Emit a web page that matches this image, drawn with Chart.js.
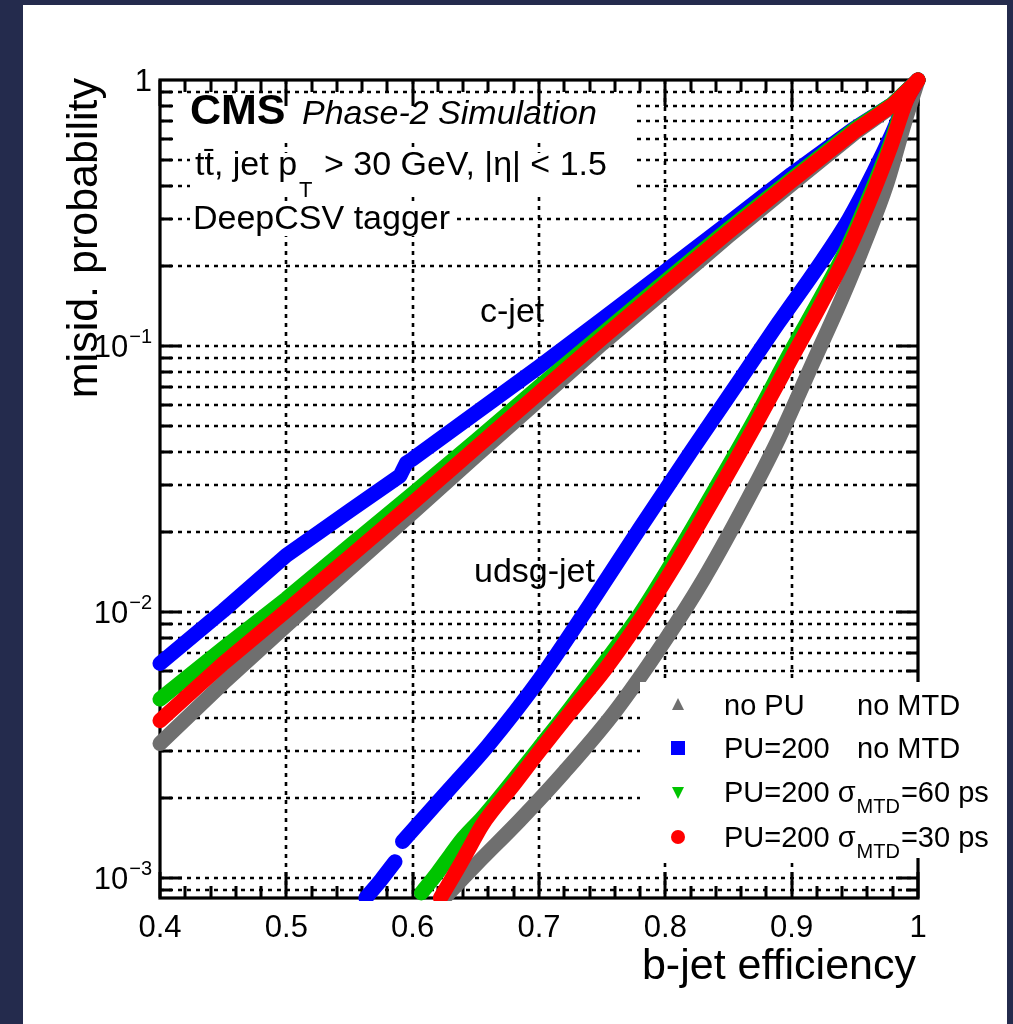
<!DOCTYPE html>
<html><head><meta charset="utf-8">
<script src="https://cdn.jsdelivr.net/npm/chart.js@4.4.1/dist/chart.umd.min.js"></script>
<style>html,body{margin:0;padding:0;background:#242b4d;overflow:hidden}canvas{display:block}</style>
</head><body>
<canvas id="c" width="1013" height="1024"></canvas>
<script>
// ---------------- data ----------------
const effC = [0.40,0.45,0.50,0.55,0.60,0.65,0.70,0.75,0.80,0.85,0.90,0.95,0.98,1.00];
const cjetNoPU   = [0.0032,0.0054,0.0089,0.0145,0.0236,0.0386,0.0627,0.102,0.162,0.259,0.406,0.632,0.799,1.0];
const cjetMTD60  = [0.0047,0.0073,0.0112,0.0177,0.0278,0.0440,0.0702,0.111,0.175,0.275,0.425,0.654,0.812,1.0];
const cjetMTD30  = [0.0039,0.0064,0.0101,0.0161,0.0257,0.0414,0.0666,0.107,0.170,0.268,0.417,0.643,0.805,1.0];
const effCBlue   = [0.40,0.45,0.50,0.55,0.59,0.595,0.60,0.65,0.70,0.75,0.80,0.85,0.90,0.95,0.98,1.00];
const cjetPU200  = [0.0064,0.0101,0.0163,0.0240,0.0325,0.0363,0.0376,0.0560,0.0834,0.126,0.191,0.290,0.443,0.660,0.812,1.0];

const effUGray   = [0.625,0.65,0.685,0.72,0.76,0.80,0.83,0.86,0.89,0.915,0.94,0.958,0.975,0.99,1.00];
const udsgNoPU   = [0.000841,0.00112,0.00165,0.00250,0.00421,0.00785,0.0132,0.0238,0.0451,0.0827,0.152,0.246,0.403,0.707,1.0];
const effURed    = [0.622,0.635,0.645,0.655,0.68,0.70,0.725,0.752,0.78,0.81,0.84,0.87,0.90,0.925,0.945,0.962,0.978,0.991,1.00];
const udsgMTD30  = [0.000841,0.00107,0.00130,0.00158,0.00224,0.00298,0.00421,0.00605,0.00933,0.0157,0.0275,0.0492,0.0901,0.149,0.230,0.354,0.555,0.841,1.0];
const effUGreen  = [0.607,0.62,0.63,0.64,0.655,0.68,0.70,0.725,0.75,0.78,0.81,0.84,0.87,0.90,0.925,0.945,0.962,0.978,0.991,1.00];
const udsgMTD60  = [0.000878,0.00105,0.00122,0.00141,0.00168,0.00234,0.00308,0.00436,0.00627,0.00983,0.0167,0.0293,0.0522,0.0966,0.158,0.240,0.370,0.574,0.856,1.0];
const effUBlue   = [0.563,0.575,0.586,0.589,0.592,0.61,0.63,0.66,0.70,0.74,0.78,0.82,0.86,0.89,0.92,0.945,0.965,0.98,0.992,1.00];
const udsgPU200  = [0.000841,0.000983,0.00115,null,0.00137,0.00171,0.00218,0.00316,0.00555,0.0106,0.0207,0.0399,0.0758,0.123,0.196,0.298,0.451,0.637,0.863,1.0];

const xTickVals   = [0.4,0.5,0.6,0.7,0.8,0.9,1.0];
const xTickLabels = ['0.4','0.5','0.6','0.7','0.8','0.9','1'];
const xMinorStep  = 0.02;
const yMajorVals  = [0.001,0.01,0.1,1];
const yMajorBase  = ['10','10','10','1'];
const yMajorExp   = ['\u22123','\u22122','\u22121',''];
const yMinorMult  = [2,3,4,5,6,7,8,9];

const legendLabels = [
  {a:'no PU', b:'no MTD'},
  {a:'PU=200', b:'no MTD'},
  {a:'PU=200 ', sig:'60 ps'},
  {a:'PU=200 ', sig:'30 ps'}
];

// -------------- styles --------------
const COL = {gray:'#6f6f6f', blue:'#0000ff', green:'#00c400', red:'#ff0000'};
const FONT = '"Liberation Sans", Arial, Helvetica, sans-serif';
const BW = 15;

function mk(xs, ys){ return xs.map((x,i)=>({x:x, y:ys[i]})); }
function ds(label, xs, ys, color, order, smooth){
  const d = {label, data: mk(xs,ys), borderColor: color, backgroundColor: color,
    showLine:true, borderWidth: BW, pointRadius:0, borderCapStyle:'round', borderJoinStyle:'round',
    spanGaps:false, order, clip:{left:9,top:9,right:9,bottom:3}};
  if (smooth) d.cubicInterpolationMode='monotone';
  return d;
}
const datasets = [
  ds('c PU200 30ps', effC, cjetMTD30, COL.red, 0, false),
  ds('u PU200 30ps', effURed, udsgMTD30, COL.red, 0, true),
  ds('c PU200 60ps', effC, cjetMTD60, COL.green, 1, false),
  ds('u PU200 60ps', effUGreen, udsgMTD60, COL.green, 1, true),
  ds('c PU200', effCBlue, cjetPU200, COL.blue, 2, false),
  ds('u PU200', effUBlue, udsgPU200, COL.blue, 2, true),
  ds('c noPU', effC, cjetNoPU, COL.gray, 3, false),
  ds('u noPU', effUGray, udsgNoPU, COL.gray, 3, true)
];

function line(g,x1,y1,x2,y2){ g.beginPath(); g.moveTo(x1,y1); g.lineTo(x2,y2); g.stroke(); }

const bgPlugin = {
  id:'bg',
  beforeDraw(c){
    const g=c.ctx; g.save();
    g.fillStyle='#242b4d'; g.fillRect(0,0,c.width,c.height);
    g.fillStyle='#ffffff'; g.fillRect(23,5,984,1019);
    g.restore();
  }
};

function yGridValues(ys){
  const out=[];
  for (let e=-4;e<=0;e++){
    for (const m of [1].concat(yMinorMult)){
      const v = m*Math.pow(10,e);
      if (v>ys.min*1.0001 && v<ys.max*0.9999) out.push({v, major:m===1});
    }
  }
  return out;
}

const framePlugin = {
  id:'frame',
  beforeDatasetsDraw(c){
    const g=c.ctx, xs=c.scales.x, ys=c.scales.y, a=c.chartArea;
    g.save();
    g.strokeStyle='#000'; g.lineWidth=2.6; g.setLineDash([4,5]);
    for (const v of xTickVals){ if (v<=xs.min||v>=xs.max) continue; const px=Math.round(xs.getPixelForValue(v)); line(g,px,a.top,px,a.bottom); }
    for (const t of yGridValues(ys)){ const py=Math.round(ys.getPixelForValue(t.v)); line(g,a.left,py,a.right,py); }
    g.setLineDash([]);
    g.fillStyle='#fff';
    g.fillRect(177,95,455,46);
    g.fillRect(190,153,442,40);
    g.fillRect(190,204,265,32);
    g.strokeStyle='#000'; g.lineWidth=3;
    for (const t of yGridValues(ys)){
      const py=Math.round(ys.getPixelForValue(t.v)); const L=t.major?22:12;
      line(g,a.left,py,a.left+L,py); line(g,a.right,py,a.right-L,py);
    }
    for (let v=xs.min; v<=xs.max+1e-9; v+=xMinorStep){
      const px=Math.round(xs.getPixelForValue(v));
      const major = Math.abs(v*10-Math.round(v*10))<1e-6;
      const L=major?26:12;
      line(g,px,a.bottom,px,a.bottom-L); line(g,px,a.top,px,a.top+L);
    }
    g.lineWidth=3.2;
    g.strokeRect(a.left,a.top,a.right-a.left,a.bottom-a.top);
    g.restore();
  },
  afterDatasetsDraw(c){
    const g=c.ctx, xs=c.scales.x, ys=c.scales.y, a=c.chartArea;
    g.save();
    g.fillStyle='#000'; g.textAlign='left'; g.textBaseline='alphabetic';
    g.font='31px '+FONT; g.textAlign='center';
    xTickVals.forEach((v,i)=>{ g.fillText(xTickLabels[i], xs.getPixelForValue(v), 937); });
    yMajorVals.forEach((v,i)=>{
      const py=ys.getPixelForValue(v);
      const xr=152;
      g.textAlign='left';
      g.font='20px '+FONT; const we = yMajorExp[i]? g.measureText(yMajorExp[i]).width : 0;
      g.font='31px '+FONT; const wb = g.measureText(yMajorBase[i]).width;
      const x0 = xr - we - wb - (we?1:0);
      g.fillText(yMajorBase[i], x0, py+11);
      if (yMajorExp[i]){ g.font='20px '+FONT; g.fillText(yMajorExp[i], x0+wb+1, py-3); }
    });
    g.font='43px '+FONT; g.textAlign='right';
    g.fillText('b-jet efficiency', 916, 979);
    g.save(); g.translate(97,78); g.rotate(-Math.PI/2); g.textAlign='right';
    g.fillText('misid. probability', 0, 0); g.restore();
    g.textAlign='left';
    g.font='bold 43px '+FONT; g.fillText('CMS', 190, 124);
    g.font='italic 34px '+FONT; g.fillText('Phase-2 Simulation', 302, 124);
    g.font='34px '+FONT;
    let x=195; const s1='tt\u0304, jet p';
    g.fillText(s1, x, 175); x+=g.measureText(s1).width;
    g.font='22px '+FONT; g.fillText('T', x+2, 197); x+=g.measureText('T').width+4;
    g.font='34px '+FONT; g.fillText(' > 30 GeV, |\u03b7| < 1.5', x, 175);
    g.fillText('DeepCSV tagger', 193, 229);
    g.fillText('c-jet', 480, 322);
    g.fillText('udsg-jet', 474, 582);
    g.fillStyle='#fff'; g.fillRect(640,682,362,176);
    const rows=[705,748,792,837], mx=678, tx=724;
    const cols=[COL.gray,COL.blue,COL.green,COL.red];
    rows.forEach((ry,i)=>{
      g.fillStyle=cols[i];
      g.beginPath();
      if(i===0){ g.moveTo(mx,ry-7); g.lineTo(mx+6,ry+5); g.lineTo(mx-6,ry+5); g.closePath(); g.fill(); }
      else if(i===1){ g.fillRect(mx-7,ry-7,14,14); }
      else if(i===2){ g.moveTo(mx-6,ry-5); g.lineTo(mx+6,ry-5); g.lineTo(mx,ry+7); g.closePath(); g.fill(); }
      else { g.arc(mx,ry,7,0,Math.PI*2); g.fill(); }
      g.fillStyle='#000'; g.font='29px '+FONT;
      const L=legendLabels[i], by=ry+10;
      if (L.b){ g.fillText(L.a, tx, by); g.fillText(L.b, 857, by); }
      else {
        let xx=tx; g.fillText(L.a, xx, by); xx+=g.measureText(L.a).width;
        g.fillText('\u03c3', xx, by); xx+=g.measureText('\u03c3').width+1;
        g.font='20px '+FONT; g.fillText('MTD', xx, by+11); xx+=g.measureText('MTD').width+1;
        g.font='29px '+FONT; g.fillText('='+L.sig, xx, by);
      }
    });
    g.restore();
  }
};

new Chart(document.getElementById('c'), {
  type:'scatter',
  data:{datasets},
  options:{
    responsive:false, animation:false, devicePixelRatio:1,
    layout:{padding:{left:0, top:80, right:95, bottom:0}},
    plugins:{legend:{display:false}, tooltip:{enabled:false}, title:{display:false}},
    scales:{
      x:{type:'linear', min:0.4, max:1.0, ticks:{display:false}, grid:{display:false}, border:{display:false},
         afterFit(s){ s.height=126; }},
      y:{type:'logarithmic', min:0.00084, max:1.0, ticks:{display:false}, grid:{display:false}, border:{display:false},
         afterFit(s){ s.width=160; }}
    }
  },
  plugins:[bgPlugin, framePlugin]
});
</script>
</body></html>
